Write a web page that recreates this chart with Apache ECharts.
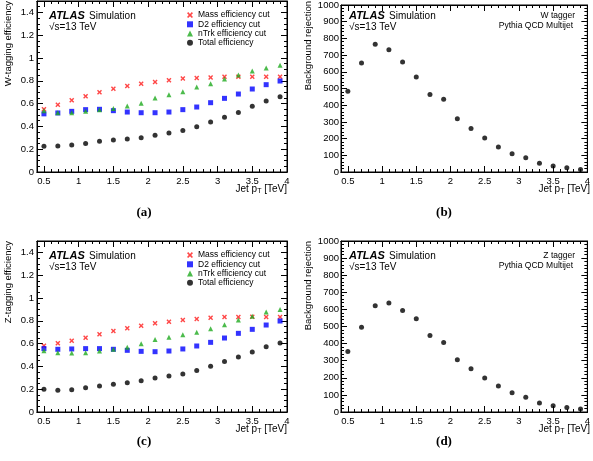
<!DOCTYPE html>
<html>
<head>
<meta charset="utf-8">
<script src="https://cdn.jsdelivr.net/npm/echarts@6/dist/echarts.min.js"></script>
<style>
  html, body { margin: 0; padding: 0; background: #fff; }
  #chart { width: 593px; height: 461px; }
</style>
</head>
<body>
<div id="chart"></div>
<script>
// jet pT bin centres [TeV]
const ptBins = [0.5, 0.7, 0.9, 1.1, 1.3, 1.5, 1.7, 1.9, 2.1, 2.3, 2.5, 2.7, 2.9, 3.1, 3.3, 3.5, 3.7, 3.9];
const ptTickLabels = [0.5, 1, 1.5, 2, 2.5, 3, 3.5, 4];

// (a) W tagger efficiencies
const wMassEff = [0.55, 0.59, 0.63, 0.665, 0.70, 0.73, 0.755, 0.775, 0.79, 0.805, 0.82, 0.825, 0.83, 0.835, 0.835, 0.835, 0.835, 0.835];
const wD2Eff = [0.51, 0.518, 0.532, 0.547, 0.55, 0.538, 0.526, 0.52, 0.52, 0.526, 0.547, 0.57, 0.608, 0.646, 0.684, 0.728, 0.766, 0.798];
const wNtrkEff = [0.538, 0.52, 0.52, 0.532, 0.547, 0.558, 0.579, 0.602, 0.649, 0.678, 0.705, 0.746, 0.775, 0.816, 0.851, 0.886, 0.912, 0.936];
const wTotalEff = [0.225, 0.228, 0.237, 0.251, 0.269, 0.281, 0.29, 0.301, 0.322, 0.342, 0.365, 0.398, 0.439, 0.48, 0.523, 0.576, 0.623, 0.661];

// (b) W tagger background rejection
const wRejection = [484, 652, 765, 732, 658, 569, 464, 435, 319, 261, 203, 150, 110, 85, 52, 36, 26, 15];

// (c) Z tagger efficiencies
const zMassEff = [0.582, 0.602, 0.626, 0.652, 0.681, 0.711, 0.734, 0.757, 0.778, 0.792, 0.807, 0.816, 0.827, 0.833, 0.833, 0.836, 0.833, 0.833];
const zD2Eff = [0.556, 0.55, 0.553, 0.556, 0.556, 0.55, 0.541, 0.532, 0.529, 0.535, 0.553, 0.579, 0.611, 0.649, 0.69, 0.725, 0.763, 0.798];
const zNtrkEff = [0.538, 0.52, 0.518, 0.52, 0.535, 0.55, 0.567, 0.599, 0.637, 0.655, 0.678, 0.699, 0.731, 0.766, 0.807, 0.839, 0.877, 0.9];
const zTotalEff = [0.199, 0.19, 0.196, 0.213, 0.228, 0.243, 0.257, 0.275, 0.298, 0.316, 0.333, 0.363, 0.401, 0.442, 0.482, 0.526, 0.573, 0.605];

// (d) Z tagger background rejection
const zRejection = [354, 496, 622, 638, 593, 545, 448, 407, 306, 253, 199, 152, 112, 86, 53, 36, 26, 17];

const effNames = ['Mass efficiency cut', 'D2 efficiency cut', 'nTrk efficiency cut', 'Total efficiency'];

const chart = echarts.init(document.getElementById('chart'));
const font = 'Liberation Sans';
const black = '#000';
const crossPath = 'path://M2,0L5,3L8,0L10,2L7,5L10,8L8,10L5,7L2,10L0,8L3,5L0,2Z';

const markers = [
  { symbol: crossPath, size: 5, color: '#ff1a1a' },
  { symbol: 'rect', size: 5, color: '#0000ff' },
  { symbol: 'triangle', size: 5, color: '#1faa1f' },
  { symbol: 'circle', size: 5, color: '#000000' },
];

const grids = [
  { left: 37, top: 1, width: 250, height: 171 },
  { left: 341, top: 1, width: 249, height: 171 },
  { left: 37, top: 241, width: 250, height: 171 },
  { left: 341, top: 241, width: 249, height: 171 },
];

function pairs(values) {
  return ptBins.map((x, i) => [x, values[i]]);
}

function plainNumber(value) {
  return String(+value.toFixed(3));
}

// four x axes per grid: labelled major, minor, mirrored major, mirrored minor
function xAxesFor(gridIndex) {
  const base = {
    type: 'value', gridIndex, min: 0.4, max: 4,
    axisLine: { lineStyle: { color: black, width: 1 } },
    splitLine: { show: false },
  };
  const major = (position, labels) => ({
    ...base, position, offset: 0,
    axisTick: { inside: true, length: 6, customValues: ptTickLabels, lineStyle: { color: black } },
    axisLabel: labels
      ? { show: true, customValues: ptTickLabels, formatter: plainNumber, color: black, fontFamily: font, fontSize: 9.5, margin: 4 }
      : { show: false },
  });
  const minor = (position) => ({
    ...base, position, offset: 0, interval: 0.1,
    axisTick: { inside: true, length: 3, lineStyle: { color: black } },
    axisLabel: { show: false },
  });
  return [major('bottom', true), minor('bottom'), major('top', false), minor('top')];
}

function yAxesFor(gridIndex, max, interval, minorSplit, showMax, margin) {
  const base = {
    type: 'value', gridIndex, min: 0, max, interval,
    axisLine: { show: true, lineStyle: { color: black, width: 1 } },
    splitLine: { show: false },
    axisTick: { inside: true, length: 6, lineStyle: { color: black } },
    minorTick: { show: true, splitNumber: minorSplit, length: 3, lineStyle: { color: black } },
  };
  return [
    {
      ...base, position: 'left', offset: 0,
      axisLabel: { color: black, fontFamily: font, fontSize: 9.5, margin, showMaxLabel: showMax, formatter: plainNumber },
    },
    { ...base, position: 'right', offset: 0, axisLabel: { show: false } },
  ];
}

const xAxes = [0, 1, 2, 3].flatMap(xAxesFor);
const yAxes = [
  ...yAxesFor(0, 1.5, 0.2, 4, false, 3),
  ...yAxesFor(1, 1000, 100, 5, true, 2),
  ...yAxesFor(2, 1.5, 0.2, 4, false, 3),
  ...yAxesFor(3, 1000, 100, 5, true, 2),
];

function scatter(name, gridIndex, values, marker) {
  return {
    name, type: 'scatter',
    xAxisIndex: gridIndex * 4, yAxisIndex: gridIndex * 2,
    data: pairs(values),
    symbol: marker.symbol, symbolSize: marker.size,
    itemStyle: { color: marker.color },
    emphasis: { disabled: true },
  };
}

const wEff = [wMassEff, wD2Eff, wNtrkEff, wTotalEff];
const zEff = [zMassEff, zD2Eff, zNtrkEff, zTotalEff];

const series = [
  ...wEff.map((vals, i) => scatter(effNames[i], 0, vals, markers[i])),
  scatter('W rejection', 1, wRejection, markers[3]),
  ...zEff.map((vals, i) => scatter(effNames[i], 2, vals, markers[i])),
  scatter('Z rejection', 3, zRejection, markers[3]),
];

function legendAt(top) {
  return {
    orient: 'vertical', left: 187, top, padding: 0, itemGap: 0,
    itemWidth: 6, itemHeight: 6,
    data: effNames,
    selectedMode: false,
    textStyle: { color: black, fontFamily: font, fontSize: 8.5, lineHeight: 9.2, padding: [0, 0, 0, 0] },
  };
}

function text(x, y, str, opts) {
  return {
    type: 'text', x, y, silent: true,
    rotation: opts.rotation || 0,
    style: {
      text: str,
      font: opts.font,
      fill: black,
      align: opts.align || 'left',
      textAlign: opts.align || 'left',
      verticalAlign: 'middle',
      textVerticalAlign: 'middle',
      rich: opts.rich,
    },
  };
}

const ptTitleRich = {
  n: { fontFamily: font, fontSize: 10, lineHeight: 12, verticalAlign: 'middle' },
  s: { fontFamily: font, fontSize: 7, lineHeight: 6, verticalAlign: 'bottom' },
};

function panelTexts(dx, dy, yTitle, tagger) {
  const out = [
    text(dx + 49, dy + 16, 'ATLAS', { font: `italic bold 11px "${font}"` }),
    text(dx + 89, dy + 16, 'Simulation', { font: `10px "${font}"` }),
    text(dx + 49, dy + 27, '\u221As=13 TeV', { font: `10px "${font}"` }),
    text(dx + 287 + (dx ? 3 : 0), dy + 189, '{n|Jet p}{s|T}{n| [TeV]}', { font: `10px "${font}"`, align: 'right', rich: ptTitleRich }),
    text(dx + 8, dy + 1, yTitle, { font: `9.5px "${font}"`, align: 'right', rotation: Math.PI / 2 }),
  ];
  if (tagger) {
    out.push(text(dx + 275, dy + 16, tagger, { font: `8.5px "${font}"`, align: 'right' }));
    out.push(text(dx + 273, dy + 26, 'Pythia QCD Multijet', { font: `8.5px "${font}"`, align: 'right' }));
  }
  return out;
}

const captionFont = 'bold 13px "Liberation Serif"';

const graphics = [
  ...panelTexts(0, 0, 'W-tagging efficiency', null),
  ...panelTexts(300, 0, 'Background rejection', 'W tagger'),
  ...panelTexts(0, 240, 'Z-tagging efficiency', null),
  ...panelTexts(300, 240, 'Background rejection', 'Z tagger'),
  text(144, 213, '(a)', { font: captionFont, align: 'center' }),
  text(444, 213, '(b)', { font: captionFont, align: 'center' }),
  text(144, 442, '(c)', { font: captionFont, align: 'center' }),
  text(444, 442, '(d)', { font: captionFont, align: 'center' }),
];

chart.setOption({
  animation: false,
  backgroundColor: '#fff',
  grid: grids.map((g) => ({ ...g, show: true, borderColor: black, borderWidth: 1, backgroundColor: 'transparent' })),
  legend: [legendAt(10.5), legendAt(250.5)],
  xAxis: xAxes,
  yAxis: yAxes,
  series,
  graphic: graphics,
});

window.addEventListener('resize', () => chart.resize());
</script>
</body>
</html>
